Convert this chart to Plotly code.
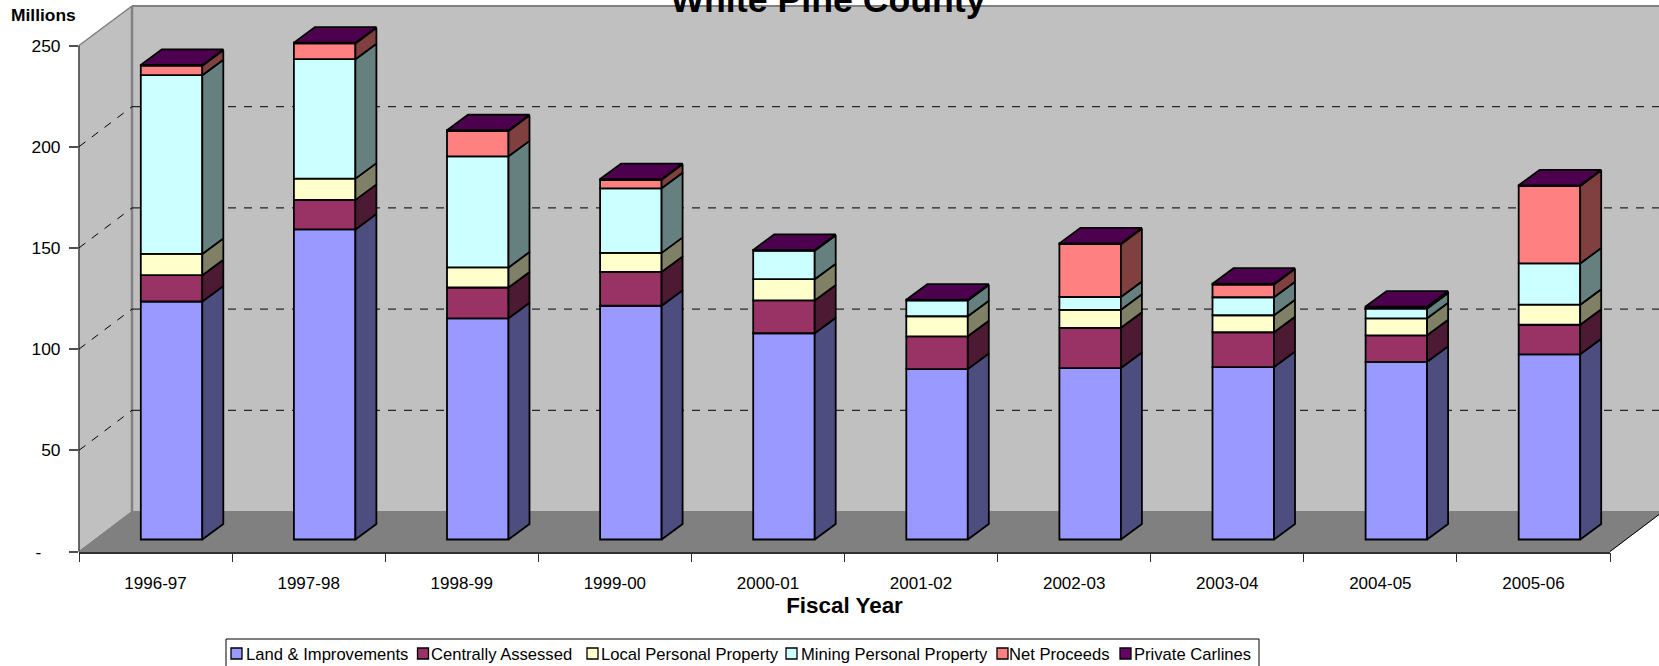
import plotly.graph_objects as go

W, H = 1659, 666
categories = ["1996-97","1997-98","1998-99","1999-00","2000-01","2001-02","2002-03","2003-04","2004-05","2005-06"]
land    = [117.6,153.2,109.3,115.5,101.9,84.2,84.7,85.2,87.8,91.5]
central = [13.0,14.6,15.2,16.7,16.2,16.2,19.9,17.2,13.1,14.6]
local   = [10.5,10.5,9.9,9.4,10.5,9.9,8.9,8.4,8.4,9.9]
mining  = [88.3,59.0,54.9,31.9,14.1,7.8,6.3,8.9,4.8,20.4]
netpro  = [4.7,7.8,12.5,4.2,0.0,0.0,26.1,6.3,0.6,38.2]
carline = [0.4,0.4,0.4,0.4,0.4,0.4,0.4,0.4,0.4,0.4]
series = [
    ("Land & Improvements", land, "#9999FF", "#4D4D80"),
    ("Centrally Assessed", central, "#993366", "#4D1A33"),
    ("Local Personal Property", local, "#FFFFCC", "#808066"),
    ("Mining Personal Property", mining, "#CCFFFF", "#668080"),
    ("Net Proceeds", netpro, "#FF8080", "#804040"),
    ("Private Carlines", carline, "#660066", "#330033"),
]
y_ticks = [0,50,100,150,200,250]
y_labels = ["-\u00a0\u00a0\u00a0\u00a0","50","100","150","200","250"]

# plot geometry in pixels
AX_L, AX_R, AX_T, AX_B = 79, 1610, 45.5, 551.5
DEPTH_X, DEPTH_Y = 53, 40
Y_MAX = 265  # head-room above the top tick so the tallest bar's 3-D top fits
px = lambda x: x / W
py = lambda y: 1 - y / H
u_x = (AX_R - AX_L) / len(categories)
u_y = (AX_B - AX_T) / 250
OFF_X, OFF_Y = 16 / u_x, 12 / u_y      # bar front plane offset
SIDE_X, SIDE_Y = 21 / u_x, 15.5 / u_y  # bar depth
BAR_W = 61.5 / u_x
EDGE = 1.8
idx = list(range(len(categories)))

shapes = []
def poly(pts, fill, line=None, lw=1):
    d = "M" + "L".join(f"{px(a)},{py(b)}" for a, b in pts) + "Z"
    shapes.append(dict(type="path", xref="paper", yref="paper", path=d, fillcolor=fill,
                       line=dict(color=line or fill, width=lw), layer="below"))
def seg(a, b, color, lw=1, dash="solid"):
    shapes.append(dict(type="line", xref="paper", yref="paper", x0=px(a[0]), y0=py(a[1]), x1=px(b[0]), y1=py(b[1]),
                       line=dict(color=color, width=lw, dash=dash), layer="below"))

BL, BT, BB, BR = AX_L + DEPTH_X, AX_T - DEPTH_Y + 0.5, AX_B - DEPTH_Y, AX_R + DEPTH_X
poly([(BL, BT), (BR, BT), (BR, BB), (BL, BB)], "#C0C0C0")
poly([(AX_L, AX_T), (BL, BT), (BL, BB), (AX_L, AX_B)], "#C0C0C0")
poly([(AX_L, AX_B), (BL, BB), (BR, BB), (AX_R, AX_B)], "#808080")
seg((BL, BT), (BR, BT), "#808080", 2)
seg((BL, BT), (BL, BB), "#808080", 2.5)
seg((AX_L, AX_T), (BL, BT), "#808080", 1.5)
seg((AX_L, AX_B), (BL, BB), "#808080", 1)
seg((AX_R, AX_B), (BR, BB), "#000000", 1)
seg((AX_L, AX_T), (AX_L, AX_B), "#404040", 1.5)
for v in y_ticks[1:-1]:
    yy = AX_B - v * u_y
    seg((AX_L, yy), (BL, yy - DEPTH_Y), "#000000", 1, "8px,8px")
    seg((BL, yy - DEPTH_Y), (BR, yy - DEPTH_Y), "#000000", 1, "8px,8px")

fig = go.Figure()
cum = [0.0] * len(categories)
sides = []
for name, vals, col, dark in series:
    base = [c + OFF_Y for c in cum]
    fig.add_trace(go.Bar(x=[i + OFF_X for i in idx], y=vals, base=base, width=BAR_W, name=name,
                         marker=dict(color=col, line=dict(color="#000000", width=EDGE)), showlegend=False))
    sx, sy = [], []
    for i in idx:
        r = i + OFF_X + BAR_W / 2
        y0, y1 = base[i], base[i] + vals[i]
        sx += [r, r + SIDE_X, r + SIDE_X, r, r, None]
        sy += [y0, y0 + SIDE_Y, y1 + SIDE_Y, y1, y0, None]
    sides.append((sx, sy, dark))
    cum = [c + v for c, v in zip(cum, vals)]
for sx, sy, dark in sides:
    fig.add_trace(go.Scatter(x=sx, y=sy, mode="lines", fill="toself", fillcolor=dark,
                             line=dict(color="#000000", width=EDGE), hoverinfo="skip", showlegend=False))
tx, ty = [], []
for i in idx:
    l, r = i + OFF_X - BAR_W / 2, i + OFF_X + BAR_W / 2
    t = cum[i] + OFF_Y
    tx += [l, r, r + SIDE_X, l + SIDE_X, l, None]
    ty += [t, t, t + SIDE_Y, t + SIDE_Y, t, None]
fig.add_trace(go.Scatter(x=tx, y=ty, mode="lines", fill="toself", fillcolor="#4D004D",
                         line=dict(color="#000000", width=EDGE), hoverinfo="skip", showlegend=False))

FONT = "Liberation Sans"
annotations = [dict(text="<b>Millions</b>", xref="paper", yref="paper", x=px(9), y=py(15), xanchor="left",
                    yanchor="middle", showarrow=False, font=dict(size=17.4, color="#000000", family=FONT))]
# legend box (its bottom edge runs off the page)
LEG_L, LEG_R, LEG_T, LEG_B = 226, 1259, 639, 672
shapes.append(dict(type="rect", xref="paper", yref="paper", x0=px(LEG_L), x1=px(LEG_R), y0=py(LEG_B), y1=py(LEG_T),
                   fillcolor="#FFFFFF", line=dict(color="#000000", width=1), layer="below"))
leg_marker_x = [231, 417.5, 587, 786, 997, 1120]
leg_text_x = [244, 428.5, 599, 799, 1007, 1132]
for (name, vals, col, dark), mx, lx in zip(series, leg_marker_x, leg_text_x):
    shapes.append(dict(type="rect", xref="paper", yref="paper", x0=px(mx), x1=px(mx + 11), y0=py(659), y1=py(648),
                       fillcolor=col, line=dict(color="#000000", width=1.3), layer="above"))
    annotations.append(dict(text=name, xref="paper", yref="paper", x=px(lx), y=py(654), xanchor="left",
                            yanchor="middle", showarrow=False, font=dict(size=16.6, color="#000000", family=FONT)))

fig.update_layout(
    width=W, height=H, margin=dict(l=0, r=0, t=0, b=0, autoexpand=False), paper_bgcolor="#FFFFFF", plot_bgcolor="rgba(0,0,0,0)",
    barmode="overlay", showlegend=False, shapes=shapes, annotations=annotations,
    font=dict(family=FONT, color="#000000"),
    title=dict(text="<b>White Pine County</b>", x=828 / W, xanchor="center", y=py(12), yanchor="bottom",
               font=dict(size=35.7, family=FONT, color="#000000")),
    xaxis=dict(domain=[px(AX_L), px(AX_R)], range=[-0.5, 9.5], tickmode="array", tickvals=idx, ticktext=categories,
               ticks="", ticklen=0, ticklabelstandoff=15, tickfont=dict(size=17, family=FONT), showgrid=False, zeroline=False,
               showline=True, linecolor="#303030", linewidth=1.5,
               minor=dict(tickmode="array", tickvals=[i - 0.5 for i in range(11)], ticks="outside", ticklen=9,
                          tickcolor="#303030", tickwidth=1, showgrid=False),
               title=dict(text="<b>Fiscal Year</b>", font=dict(size=22.4, family=FONT), standoff=5)),
    yaxis=dict(domain=[py(AX_B), py(AX_B - Y_MAX * u_y)], range=[0, Y_MAX], tickmode="array", tickvals=y_ticks, ticktext=y_labels,
               ticks="outside", ticklen=9, tickcolor="#505050", tickwidth=1.5, ticklabelstandoff=5,
               tickfont=dict(size=17.4, family=FONT), showgrid=False, zeroline=False, showline=False),
)
fig.write_html("out.html", post_script="document.body.style.margin='0';", config=dict(displayModeBar=False))
